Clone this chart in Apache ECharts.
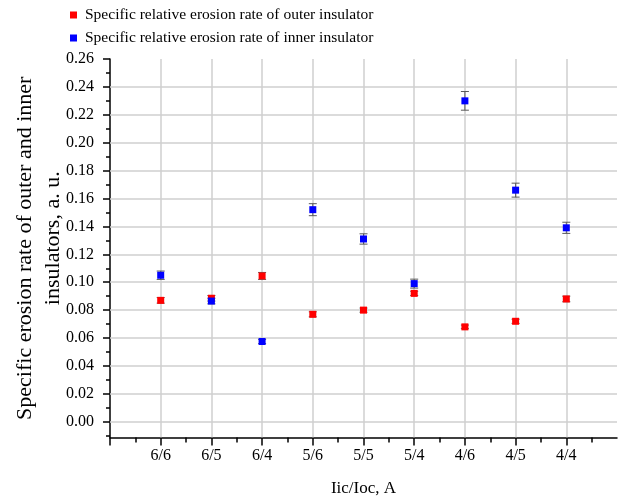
<!DOCTYPE html>
<html><head><meta charset="utf-8">
<script src="https://cdn.jsdelivr.net/npm/echarts@6/dist/echarts.min.js"></script>
<style>html,body{margin:0;padding:0;background:#fff}#c{width:621px;height:499px}</style>
</head><body><div id="c"></div>
<script>
const categories = ['6/6','6/5','6/4','5/6','5/5','5/4','4/6','4/5','4/4'];
const outerName = 'Specific relative erosion rate of outer insulator';
const innerName = 'Specific relative erosion rate of inner insulator';
const outerRate = [0.087, 0.0885, 0.1045, 0.077, 0.080, 0.092, 0.068, 0.072, 0.088];
const outerErr  = [0.002, 0.002, 0.0025, 0.0018, 0.0015, 0.0015, 0.0013, 0.0015, 0.002];
const innerRate = [0.105, 0.0865, 0.0575, 0.152, 0.131, 0.099, 0.230, 0.166, 0.139];
const innerErr  = [0.003, 0.002, 0.0015, 0.0043, 0.0037, 0.0032, 0.0067, 0.005, 0.004];
const yTickLabels = ['0.00','0.02','0.04','0.06','0.08','0.10','0.12','0.14','0.16','0.18','0.20','0.22','0.24','0.26'];

const FONT = '"Liberation Serif", "Times New Roman", serif';
const yTicks = yTickLabels.map(Number);
const yStep = yTicks[1] - yTicks[0];
const yMinor = [yTicks[0] - yStep / 2].concat(yTicks.slice(0, -1).map(v => v + yStep / 2));
const yMin = -0.0113, yMax = yTicks[yTicks.length - 1];
const xPos = categories.map((c, i) => i + 1);
const xMajor = [0].concat(xPos);
const xMinor = [0].concat(xPos).map(v => v + 0.5);

const gridColor = '#cfcfcf';
const gridLines = yTicks.slice(0, -1).map(v => ({yAxis: v}))
  .concat(xPos.map(v => ({xAxis: v})));

function errSeries(vals, errs) {
  return {
    type: 'custom', silent: true, z: 3,
    data: vals.map((v, i) => [xPos[i], v - errs[i], v + errs[i]]),
    encode: {x: 0, y: [1, 2]},
    renderItem: function (params, api) {
      const x = api.value(0);
      const p1 = api.coord([x, api.value(1)]);
      const p2 = api.coord([x, api.value(2)]);
      const w = 4;
      const st = {stroke: '#5a5a5a', lineWidth: 1};
      return {type: 'group', children: [
        {type: 'line', shape: {x1: p1[0], y1: p1[1], x2: p2[0], y2: p2[1]}, style: st},
        {type: 'line', shape: {x1: p1[0] - w, y1: p1[1], x2: p1[0] + w, y2: p1[1]}, style: st},
        {type: 'line', shape: {x1: p2[0] - w, y1: p2[1], x2: p2[0] + w, y2: p2[1]}, style: st}
      ]};
    }
  };
}

const chart = echarts.init(document.getElementById('c'), null, {renderer: 'canvas'});
chart.setOption({
  animation: false,
  backgroundColor: '#fff',
  textStyle: {fontFamily: FONT},
  legend: {
    orient: 'vertical', left: 70, top: 6, padding: 0,
    itemWidth: 7, itemHeight: 7, itemGap: 5,
    data: [{name: outerName, icon: 'rect'}, {name: innerName, icon: 'rect'}],
    textStyle: {fontFamily: FONT, fontSize: 15.5, color: '#000', lineHeight: 18, padding: [0, 0, 0, 3]}
  },
  grid: {left: 110, right: 4, top: 59, bottom: 61.5, containLabel: false, outerBoundsMode: 'none'},
  xAxis: [{
    type: 'value', min: 0, max: 10, position: 'bottom',
    name: 'Iic/Ioc, A', nameLocation: 'middle', nameGap: 43, nameMoveOverlap: false,
    nameTextStyle: {fontFamily: FONT, fontSize: 17, color: '#000'},
    axisLine: {show: true, onZero: false, lineStyle: {color: '#000', width: 1.5}},
    axisTick: {show: true, length: 8, customValues: xMajor, lineStyle: {color: '#000', width: 1.5}},
    axisLabel: {customValues: xPos, formatter: v => categories[Math.round(v) - 1] || '',
      fontFamily: FONT, fontSize: 16, color: '#000', margin: 10},
    splitLine: {show: false}
  }, {
    type: 'value', min: 0, max: 10, position: 'bottom',
    axisLine: {show: false, onZero: false},
    axisTick: {show: true, length: 5, customValues: xMinor, lineStyle: {color: '#000', width: 1.5}},
    axisLabel: {show: false}, splitLine: {show: false}
  }],
  yAxis: [{
    type: 'value', min: yMin, max: yMax, position: 'left',
    name: '{a|Specific erosion rate of outer and inner}\n{b|insulators, a. u.}',
    nameLocation: 'middle', nameGap: 43, nameRotate: 90, nameMoveOverlap: false,
    nameTextStyle: {fontFamily: FONT, fontSize: 22, color: '#000', lineHeight: 28,
      rich: {
        a: {fontFamily: FONT, fontSize: 22, color: '#000', lineHeight: 28},
        b: {fontFamily: FONT, fontSize: 22, color: '#000', lineHeight: 28, padding: [0, 0, 0, 20]}
      }},
    axisLine: {show: true, onZero: false, lineStyle: {color: '#000', width: 1.5}},
    axisTick: {show: true, length: 7, customValues: yTicks, lineStyle: {color: '#000', width: 1.5}},
    axisLabel: {customValues: yTicks, formatter: v => v.toFixed(2),
      fontFamily: FONT, fontSize: 16, color: '#000', margin: 16},
    splitLine: {show: false}
  }, {
    type: 'value', min: yMin, max: yMax, position: 'left',
    axisLine: {show: false, onZero: false},
    axisTick: {show: true, length: 4, customValues: yMinor, lineStyle: {color: '#000', width: 1.5}},
    axisLabel: {show: false}, splitLine: {show: false}
  }],
  series: [
    {
      type: 'scatter', name: '__grid', data: [], silent: true,
      markLine: {silent: true, symbol: ['none', 'none'], z: 1, label: {show: false},
        lineStyle: {color: gridColor, width: 1.5, type: 'solid'},
        emphasis: {disabled: true}, data: gridLines}
    },
    errSeries(outerRate, outerErr),
    errSeries(innerRate, innerErr),
    {type: 'scatter', name: outerName, symbol: 'rect', symbolSize: 7, z: 4,
      itemStyle: {color: '#ff0000', opacity: 1},
      data: outerRate.map((v, i) => [xPos[i], v])},
    {type: 'scatter', name: innerName, symbol: 'rect', symbolSize: 7, z: 5,
      itemStyle: {color: '#0000ff', opacity: 1},
      data: innerRate.map((v, i) => [xPos[i], v])}
  ]
});
</script>
</body></html>
